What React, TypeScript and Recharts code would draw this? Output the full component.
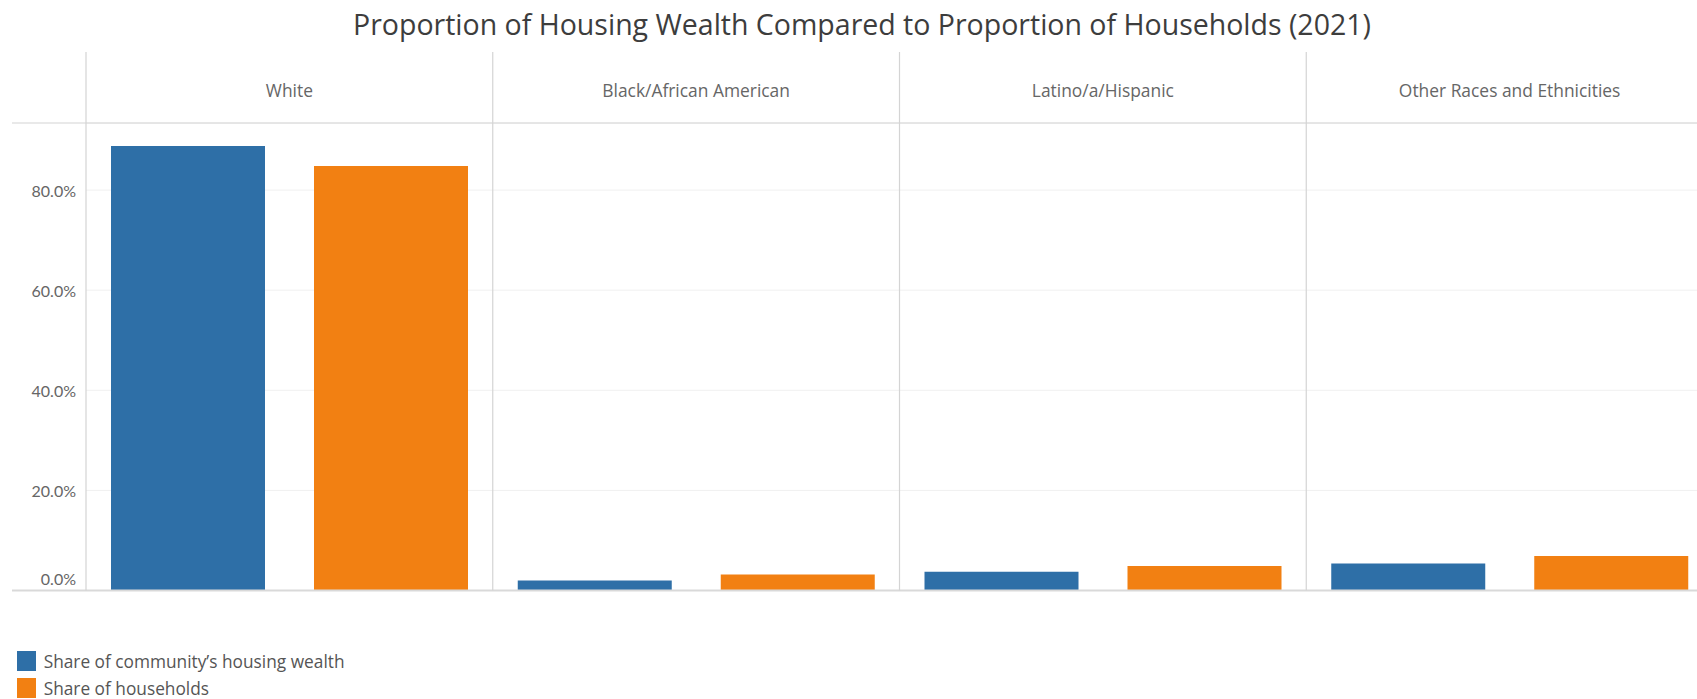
import React from 'react';
import { BarChart, Bar, XAxis, YAxis, CartesianGrid, Legend } from 'recharts';

const title = 'Proportion of Housing Wealth Compared to Proportion of Households (2021)';
const categories = ['White', 'Black/African American', 'Latino/a/Hispanic', 'Other Races and Ethnicities'];
const wealthShare = [88.8, 2.0, 3.75, 5.4];
const householdShare = [84.8, 3.2, 4.9, 6.9];
const yTicks = [0, 20, 40, 60, 80];
const seriesNames = ['Share of community\u2019s housing wealth', 'Share of households'];
const seriesColors = ['#2e6fa7', '#f28012'];

const data = categories.map((c, i) => ({
  category: c,
  wealth: wealthShare[i],
  households: householdShare[i],
}));

const W = 1713;
const H = 699;
const M = { top: 52, right: 0, bottom: 108.5, left: 0 };
const HEADER_H = 71;
const Y_W = 86;
const PLOT_TOP = M.top + HEADER_H;
const PLOT_BOTTOM = H - M.bottom;
const LINE_LEFT = 12;
const Y_MAX = 93.4;
const FONT = '"Open Sans", sans-serif';
const TICK_FONT = 'Lato, sans-serif';

const HeaderTick = (props: any) => {
  const { x, payload, index } = props;
  const half = payload && payload.offset != null ? payload.offset : (W - Y_W) / categories.length / 2;
  const left = x - half;
  return (
    <g>
      {index === 0 && (
        <line x1={LINE_LEFT} x2={W} y1={PLOT_TOP} y2={PLOT_TOP} stroke="#d4d4d4" strokeWidth={1.2} />
      )}
      {index === 0 && (
        <line x1={LINE_LEFT} x2={W} y1={PLOT_BOTTOM} y2={PLOT_BOTTOM} stroke="#d9d9d9" strokeWidth={2} />
      )}
      <line x1={left} x2={left} y1={M.top} y2={PLOT_BOTTOM} stroke="#d4d4d4" strokeWidth={1.2} />
      <text
        x={x}
        y={90}
        textAnchor="middle"
        dominantBaseline="central"
        fill="#666"
        fontSize={17.4}
        fontFamily={FONT}
      >
        {payload.value}
      </text>
    </g>
  );
};

const YTick = (props: any) => {
  const { x, y, payload } = props;
  const dy = payload.value === 0 ? -12 : 0;
  return (
    <text
      x={x}
      y={y + dy}
      textAnchor="end"
      dominantBaseline="central"
      fill="#666"
      fontSize={16}
      fontFamily={TICK_FONT}
    >
      {Number(payload.value).toFixed(1)}%
    </text>
  );
};

const LegendContent = (props: any) => {
  const items = props.payload || [];
  return (
    <div style={{ fontFamily: FONT }}>
      {items.map((p: any) => (
        <div key={p.value} style={{ display: 'flex', alignItems: 'center', height: 27 }}>
          <span
            style={{ width: 19, height: 20, background: p.color, display: 'inline-block', marginRight: 8 }}
          />
          <span style={{ fontSize: 17.3, color: '#555', whiteSpace: 'nowrap' }}>{p.value}</span>
        </div>
      ))}
    </div>
  );
};

export default function App() {
  return (
    <div
      style={{
        position: 'absolute',
        left: 0,
        top: 0,
        width: 1697,
        height: 699,
        overflow: 'hidden',
        background: '#fff',
        fontFamily: FONT,
      }}
    >
      <BarChart
        width={W}
        height={H}
        data={data}
        margin={M}
        barCategoryGap={25}
        barGap={49}
      >
        <CartesianGrid horizontal vertical={false} stroke="#f0f0f0" />
        <XAxis
          dataKey="category"
          orientation="top"
          height={HEADER_H}
          axisLine={false}
          tickLine={false}
          interval={0}
          tick={<HeaderTick />}
        />
        <YAxis
          width={Y_W}
          domain={[0, Y_MAX]}
          ticks={yTicks}
          axisLine={false}
          tickLine={false}
          tickSize={0}
          tickMargin={10}
          tick={<YTick />}
        />
        <Bar dataKey="wealth" name={seriesNames[0]} fill={seriesColors[0]} isAnimationActive={false} />
        <Bar dataKey="households" name={seriesNames[1]} fill={seriesColors[1]} isAnimationActive={false} />
        <Legend
          layout="vertical"
          align="center"
          verticalAlign="middle"
          wrapperStyle={{ left: 16.7, top: 647.5, width: 'auto' }}
          content={<LegendContent />}
        />
      </BarChart>
      <div
        style={{
          position: 'absolute',
          left: 0,
          top: 8,
          width: 1724,
          textAlign: 'center',
          fontSize: 28.5,
          lineHeight: '32px',
          color: '#3d3d3d',
          whiteSpace: 'nowrap',
        }}
      >
        {title}
      </div>
    </div>
  );
}
